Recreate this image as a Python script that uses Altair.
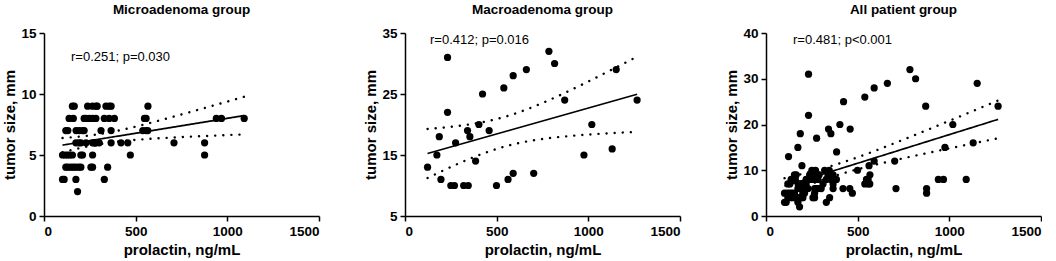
import altair as alt
import numpy as np
import pandas as pd

# ---- data ----
micro_prl = [155, 165, 238, 265, 285, 290, 338, 355, 366, 567,
             137, 160, 219, 230, 247, 265, 283, 329, 355, 384, 548, 557, 940, 968, 1092,
             119, 130, 175, 192, 210, 219, 311, 366, 539, 557, 566,
             174, 190, 201, 229, 265, 274, 280, 283, 301, 366, 420, 457, 709, 876,
             101, 115, 128, 140, 155, 201, 210, 265, 471, 876,
             119, 130, 146, 160, 174, 190, 201, 256, 265, 347,
             101, 110, 174, 329,
             183]
micro_size = [9] * 10 + [8] * 15 + [7] * 11 + [6] * 14 + [5] * 10 + [4] * 10 + [3] * 4 + [2] * 1

macro_prl = [232, 662, 590, 539, 423, 232, 403, 341, 459, 187, 354, 276, 174, 385, 123, 196,
             250, 270, 320, 345, 499, 562, 590, 702, 785, 816, 1152, 871, 1266, 1019, 1130, 976]
macro_size = [31, 29, 28, 26, 25, 22, 20, 19, 19, 18, 18, 17, 15, 14, 13, 11,
              10, 10, 10, 10, 10, 11, 12, 12, 32, 30, 29, 24, 24, 20, 16, 15]

all_prl = micro_prl + macro_prl
all_size = micro_size + macro_size

titles = ["Microadenoma group", "Macroadenoma group", "All patient group"]
stats = ["r=0.251; p=0.030", "r=0.412; p=0.016", "r=0.481; p<0.001"]
y_domains = [[0, 15], [5, 35], [0, 40]]
y_ticks = [[0, 5, 10, 15], [5, 15, 25, 35], [0, 10, 20, 30, 40]]
x_ticks = [0, 500, 1000, 1500]

FONT = "Liberation Sans"


def fit_frames(xs, ys):
    x = np.asarray(xs, float)
    y = np.asarray(ys, float)
    n = len(x)
    b, a = np.polyfit(x, y, 1)
    resid = y - (a + b * x)
    s = np.sqrt(np.sum(resid ** 2) / (n - 2))
    sxx = np.sum((x - x.mean()) ** 2)
    df = n - 2
    z = 1.96
    t = z + (z ** 3 + z) / (4 * df)
    grid = np.linspace(x.min(), x.max(), 80)
    yhat = a + b * grid
    half = t * s * np.sqrt(1.0 / n + (grid - x.mean()) ** 2 / sxx)
    line = pd.DataFrame({"prl": grid, "fit": yhat})
    band = pd.concat([
        pd.DataFrame({"prl": grid, "fit": yhat + half, "side": "upper"}),
        pd.DataFrame({"prl": grid, "fit": yhat - half, "side": "lower"}),
    ])
    return line, band


def panel(xs, ys, title, stat, ydom, yt, text_pos):
    pts = pd.DataFrame({"prl": xs, "size": ys})
    line, band = fit_frames(xs, ys)
    xenc = alt.X("prl:Q", scale=alt.Scale(domain=[0, 1500], nice=False),
                 axis=alt.Axis(values=x_ticks, format="d", title="prolactin, ng/mL"))
    yaxis = alt.Axis(values=yt, format="d", title="tumor size, mm")
    yscale = alt.Scale(domain=ydom, nice=False, zero=False)
    p = alt.Chart(pts).mark_circle(size=52, color="black", opacity=1).encode(
        x=xenc, y=alt.Y("size:Q", scale=yscale, axis=yaxis))
    l = alt.Chart(line).mark_line(color="black", strokeWidth=1.7).encode(
        x="prl:Q", y=alt.Y("fit:Q", scale=yscale))
    d = alt.Chart(band).mark_line(color="black", strokeWidth=2.4, strokeDash=[0.1, 8],
                                  strokeCap="round").encode(
        x="prl:Q", y=alt.Y("fit:Q", scale=yscale), detail="side:N")
    txt = alt.Chart(pd.DataFrame({"t": [stat]})).mark_text(
        align="left", baseline="middle", fontSize=13, font=FONT, color="black").encode(
        x=alt.value(text_pos[0]), y=alt.value(text_pos[1]), text="t:N")
    return alt.layer(d, l, p, txt).properties(
        width=275, height=183,
        title=alt.TitleParams(title, fontSize=13.5, font=FONT, fontWeight="bold", offset=10))


text_positions = [(27, 24), (25, 7), (27, 7)]
data_sets = [(micro_prl, micro_size), (macro_prl, macro_size), (all_prl, all_size)]
panels = [panel(xs, ys, titles[i], stats[i], y_domains[i], y_ticks[i], text_positions[i])
          for i, (xs, ys) in enumerate(data_sets)]

chart = alt.hconcat(*panels, spacing=43).properties(
    padding={"left": 2, "top": 2, "right": 0, "bottom": 0}
).configure_view(stroke=None).configure_axis(
    domainColor="black", domainWidth=1.5, tickColor="black", tickWidth=1.5, tickSize=5,
    grid=False, labelFont=FONT, labelFontSize=13.5, labelFontWeight="bold", labelColor="black",
    titleFont=FONT, titleFontSize=15, titleFontWeight="bold", titleColor="black",
    labelPadding=3
).configure_axisX(titlePadding=5).configure_axisY(titlePadding=3)

chart.save("out.html", embed_options={"renderer": "svg", "actions": False})
